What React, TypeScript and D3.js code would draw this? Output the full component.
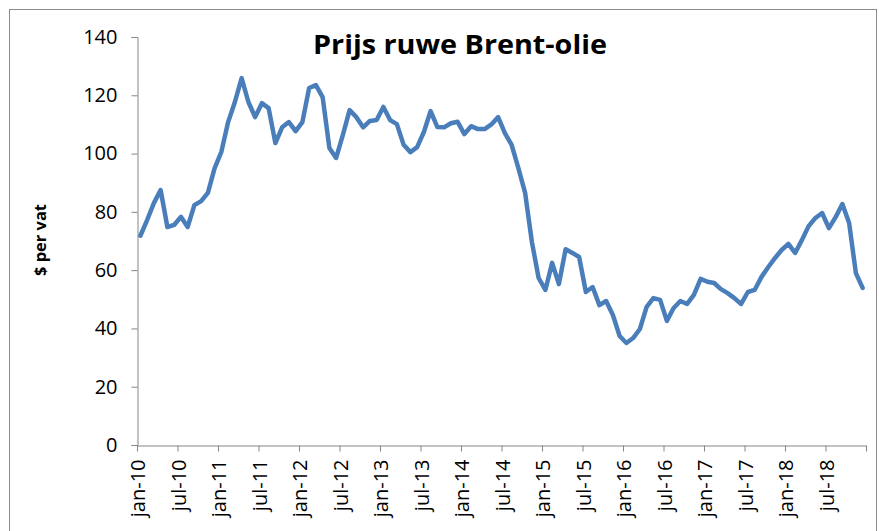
import React, { useEffect, useRef } from "react";
import * as d3 from "d3";

// maandgemiddelde Brent, jan-10 t/m dec-18 ($ per vat)
const prices: number[] = [
  71.8, 77.2, 83, 87.5, 74.8, 75.5, 78.3, 74.8, 82.3, 83.7, 86.5, 95,
  100.6, 110.8, 117.7, 125.9, 117.7, 112.5, 117.3, 115.6, 103.6, 109, 110.8, 107.7,
  110.8, 122.5, 123.5, 119.4, 101.9, 98.5, 106.4, 114.9, 112.5, 109, 111.2, 111.5,
  116, 111.5, 110.1, 103, 100.5, 102.2, 107.4, 114.6, 109.1, 109, 110.4, 110.9,
  106.7, 109.4, 108.4, 108.4, 110, 112.5, 107, 103, 95, 86.5, 69.7, 57.3,
  53.2, 62.5, 55.2, 67.2, 65.9, 64.5, 52.5, 54.2, 48, 49.4, 44.6, 37.4,
  35, 36.7, 39.8, 47.4, 50.4, 49.8, 42.6, 47, 49.4, 48.4, 51.5, 57,
  56, 55.6, 53.5, 52.1, 50.4, 48.4, 52.5, 53.2, 57.6, 61, 64.1, 66.9,
  69, 65.9, 70.3, 75.1, 77.9, 79.6, 74.4, 78.2, 82.7, 76.2, 59, 53.9,
];

const xTickLabels: string[] = [
  "jan-10", "jul-10", "jan-11", "jul-11", "jan-12", "jul-12",
  "jan-13", "jul-13", "jan-14", "jul-14", "jan-15", "jul-15",
  "jan-16", "jul-16", "jan-17", "jul-17", "jan-18", "jul-18",
];

const yTicks: number[] = [0, 20, 40, 60, 80, 100, 120, 140];

const title = "Prijs ruwe Brent-olie";
const yTitle = "$ per vat";

const W = 879;
const H = 531;
const FONT = "'Open Sans', 'Noto Sans', sans-serif";

const App: React.FC = () => {
  const svgRef = useRef<SVGSVGElement>(null);

  useEffect(() => {
    const svg = d3.select(svgRef.current);
    svg.selectAll("*").remove();

    const left = 137;
    const right = 866;
    const top = 37;
    const bottom = 445;
    const months = 108;

    const x = d3.scaleLinear().domain([0, months]).range([left, right]);
    const y = d3.scaleLinear().domain([0, 140]).range([bottom, top]);

    // chart frame
    svg
      .append("rect")
      .attr("x", 9.5)
      .attr("y", 9.5)
      .attr("width", 867)
      .attr("height", 540)
      .attr("fill", "white")
      .attr("stroke", "#8c8c8c")
      .attr("stroke-width", 1);

    // y axis
    const yAxis = d3
      .axisLeft(y)
      .tickValues(yTicks)
      .tickSize(6)
      .tickPadding(14)
      .tickSizeOuter(6);
    const gy = svg.append("g").attr("transform", `translate(${left + 0.5},0)`).call(yAxis);
    gy.selectAll("path, line").attr("stroke", "#868686");
    gy.selectAll("text")
      .attr("font-family", FONT)
      .attr("font-size", 20)
      .attr("fill", "#000");

    // x axis, tick every 6 months
    const xTickVals = d3.range(0, months + 1, 6);
    const xAxis = d3
      .axisBottom(x)
      .tickValues(xTickVals)
      .tickSize(6)
      .tickSizeOuter(0)
      .tickFormat((d) => xTickLabels[(d as number) / 6] ?? "");
    const gx = svg.append("g").attr("transform", `translate(0,${bottom + 0.5})`).call(xAxis);
    gx.selectAll("path, line").attr("stroke", "#868686");
    gx.selectAll("text")
      .attr("font-family", FONT)
      .attr("font-size", 20)
      .attr("fill", "#000")
      .attr("text-anchor", "end")
      .attr("transform", "rotate(-90)")
      .attr("x", -14)
      .attr("y", 0)
      .attr("dy", "0.38em");

    // price line
    const line = d3
      .line<number>()
      .x((_, i) => x(i + 0.5))
      .y((d) => y(d));

    svg
      .append("path")
      .attr("d", line(prices) || "")
      .attr("fill", "none")
      .attr("stroke", "#4A7EBB")
      .attr("stroke-width", 4.5)
      .attr("stroke-linejoin", "round")
      .attr("stroke-linecap", "round");

    // titles
    svg
      .append("text")
      .attr("x", 460)
      .attr("y", 54)
      .attr("text-anchor", "middle")
      .attr("font-family", FONT)
      .attr("font-weight", "bold")
      .attr("font-size", 27)
      .attr("textLength", 294)
      .attr("lengthAdjust", "spacingAndGlyphs")
      .text(title);

    svg
      .append("text")
      .attr("transform", `translate(46,240) rotate(-90)`)
      .attr("text-anchor", "middle")
      .attr("font-family", FONT)
      .attr("font-weight", "bold")
      .attr("font-size", 16)
      .attr("textLength", 72)
      .attr("lengthAdjust", "spacingAndGlyphs")
      .text(yTitle);
  }, []);

  return (
    <svg
      ref={svgRef}
      width={W}
      height={H}
      style={{ position: "absolute", left: 0, top: 0, background: "white" }}
    />
  );
};

export default App;
